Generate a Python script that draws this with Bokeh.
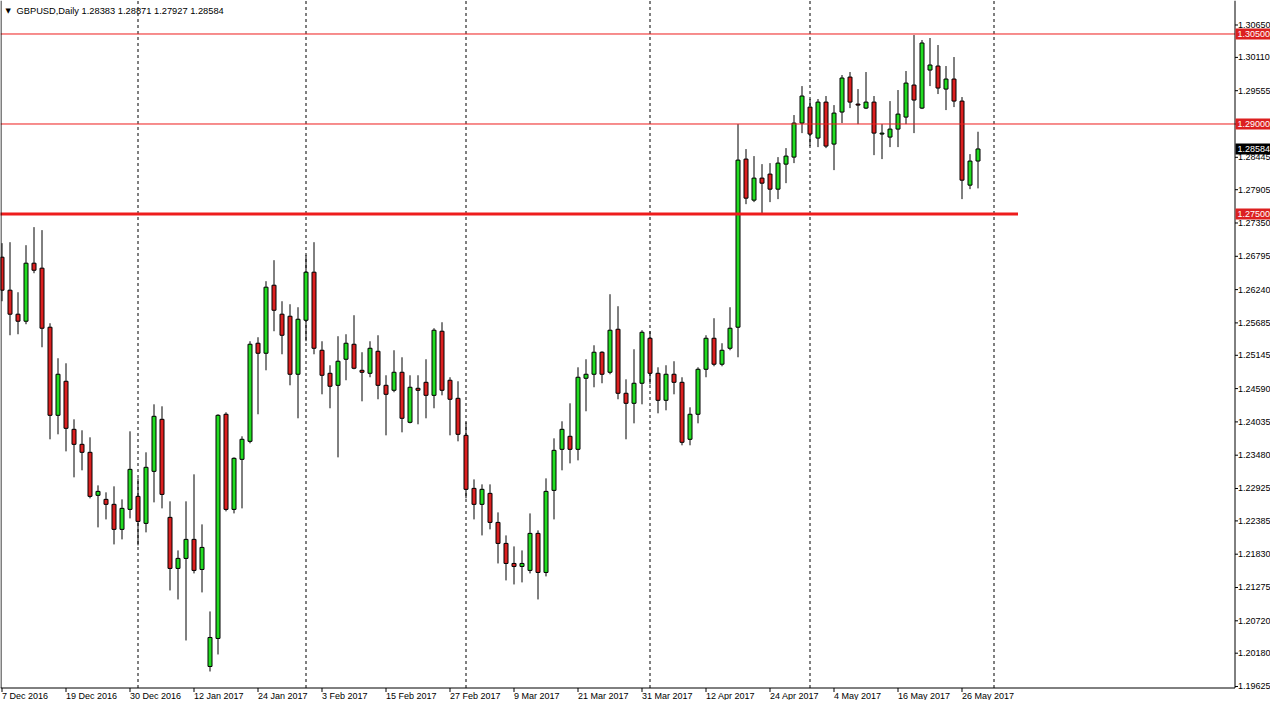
import pandas as pd
from bokeh.plotting import figure
from bokeh.models import Range1d, ColumnDataSource
from bokeh.core.properties import value
from bokeh.embed import file_html
from bokeh.resources import INLINE

# ---------------- data ----------------
symbol = "GBPUSD"
timeframe = "Daily"
first_date = "2016-12-07"
missing_days = ["2016-12-26", "2017-01-02"]

opens = [1.26780, 1.26230, 1.25830, 1.25713, 1.26680, 1.26597, 1.25613, 1.24145, 1.24712, 1.23911,
         1.23661, 1.23528, 1.22811, 1.22744, 1.22661, 1.22244, 1.22577, 1.22794, 1.22344, 1.23211,
         1.24078, 1.22444, 1.21593, 1.21760, 1.22077, 1.21576, 1.19959, 1.20426, 1.24162, 1.22577,
         1.23411, 1.23711, 1.25346, 1.25179, 1.26313, 1.25830, 1.25796, 1.24829, 1.25729, 1.26530,
         1.25229, 1.24845, 1.24645, 1.25079, 1.25329, 1.24895, 1.24845, 1.25212, 1.24645, 1.24562,
         1.24862, 1.24028, 1.24595, 1.24695, 1.24478, 1.25546, 1.24729, 1.24428, 1.23811, 1.22927,
         1.22661, 1.22844, 1.22360, 1.22010, 1.21676, 1.21626, 1.21560, 1.22177, 1.21526, 1.22894,
         1.23578, 1.23795, 1.23578, 1.24762, 1.24829, 1.25196, 1.24862, 1.25579, 1.24512, 1.24345,
         1.24679, 1.25429, 1.24845, 1.24395, 1.24829, 1.24695, 1.23745, 1.24162, 1.24912, 1.25429,
         1.24996, 1.25262, 1.25613, 1.28415, 1.27731, 1.28098, 1.28165, 1.27914, 1.28331, 1.28448,
         1.29015, 1.29282, 1.28765, 1.29365, 1.28665, 1.29199, 1.29782, 1.29332, 1.29265, 1.29365,
         1.28832, 1.28782, 1.28915, 1.29115, 1.29649, 1.29265, 1.29899, 1.29966, 1.29582, 1.29749,
         1.29382, 1.27981, 1.28383]
highs = [1.27014, 1.27030, 1.26196, 1.26980, 1.27281, 1.27231, 1.25679, 1.25096, 1.25012, 1.24078,
         1.23895, 1.23778, 1.22977, 1.22861, 1.22961, 1.22744, 1.23878, 1.23094, 1.23528, 1.24328,
         1.24295, 1.22711, 1.21893, 1.22711, 1.23161, 1.22327, 1.20876, 1.24162, 1.24195, 1.23444,
         1.23795, 1.25379, 1.25446, 1.26380, 1.26730, 1.26046, 1.25996, 1.25946, 1.26813, 1.27030,
         1.25379, 1.24979, 1.25463, 1.25496, 1.25813, 1.25196, 1.25379, 1.25479, 1.24812, 1.25229,
         1.25112, 1.24812, 1.24812, 1.25079, 1.25596, 1.25696, 1.24779, 1.24712, 1.24028, 1.23077,
         1.22994, 1.22994, 1.22527, 1.22143, 1.21960, 1.21893, 1.22510, 1.22227, 1.23094, 1.23761,
         1.24045, 1.24345, 1.24945, 1.25079, 1.25312, 1.25212, 1.26163, 1.25963, 1.24745, 1.25246,
         1.25563, 1.25546, 1.24945, 1.24979, 1.25046, 1.24779, 1.24278, 1.24945, 1.25479, 1.25763,
         1.25346, 1.25946, 1.28998, 1.28582, 1.28465, 1.28331, 1.28348, 1.28448, 1.28598, 1.29149,
         1.29632, 1.29416, 1.29416, 1.29466, 1.29315, 1.29816, 1.29866, 1.29582, 1.29866, 1.29466,
         1.28998, 1.29382, 1.29566, 1.29883, 1.30483, 1.30400, 1.30433, 1.30316, 1.29966, 1.30116,
         1.29449, 1.28498, 1.28871]
lows = [1.26046, 1.25479, 1.25496, 1.25663, 1.26513, 1.25279, 1.23745, 1.23828, 1.23544, 1.23111,
        1.23228, 1.22761, 1.22277, 1.22410, 1.21993, 1.22077, 1.22427, 1.21977, 1.22194, 1.22694,
        1.22594, 1.21226, 1.21076, 1.20392, 1.21510, 1.21193, 1.19875, 1.20159, 1.22544, 1.22510,
        1.22594, 1.23678, 1.24162, 1.24895, 1.25546, 1.25162, 1.24645, 1.24095, 1.25379, 1.25162,
        1.24495, 1.24262, 1.23444, 1.24729, 1.24912, 1.24378, 1.24779, 1.24412, 1.23811, 1.24529,
        1.23861, 1.24011, 1.23995, 1.24095, 1.24262, 1.24478, 1.23811, 1.23711, 1.22761, 1.22410,
        1.22143, 1.22244, 1.21676, 1.21393, 1.21326, 1.21360, 1.21510, 1.21076, 1.21460, 1.22410,
        1.23228, 1.23344, 1.23394, 1.24212, 1.24612, 1.24679, 1.24829, 1.24412, 1.23745, 1.24011,
        1.24328, 1.24662, 1.24178, 1.24228, 1.24495, 1.23645, 1.23645, 1.24011, 1.24779, 1.24962,
        1.24962, 1.25229, 1.25112, 1.27664, 1.27698, 1.27514, 1.27698, 1.27748, 1.28014, 1.28348,
        1.28848, 1.28632, 1.28615, 1.28598, 1.28231, 1.29015, 1.29265, 1.28998, 1.29249, 1.28481,
        1.28415, 1.28615, 1.28615, 1.28998, 1.28848, 1.29249, 1.29632, 1.29499, 1.29232, 1.29282,
        1.27748, 1.27914, 1.27927]
closes = [1.26230, 1.25830, 1.25713, 1.26680, 1.26563, 1.25596, 1.24145, 1.24829, 1.23928, 1.23661,
          1.23528, 1.22794, 1.22877, 1.22661, 1.22244, 1.22594, 1.23244, 1.22377, 1.23278, 1.24128,
          1.22827, 1.21593, 1.21760, 1.22077, 1.21560, 1.21943, 1.20442, 1.24145, 1.22577, 1.23428,
          1.23745, 1.25329, 1.25179, 1.26280, 1.25896, 1.25479, 1.24829, 1.25746, 1.26530, 1.25262,
          1.24812, 1.24629, 1.25046, 1.25346, 1.24929, 1.24862, 1.25262, 1.24645, 1.24495, 1.24862,
          1.24095, 1.24612, 1.24562, 1.24478, 1.25563, 1.24562, 1.24412, 1.23828, 1.22911, 1.22661,
          1.22911, 1.22360, 1.22010, 1.21676, 1.21626, 1.21676, 1.22177, 1.21526, 1.22877, 1.23561,
          1.23911, 1.23578, 1.24779, 1.24829, 1.25196, 1.24829, 1.25563, 1.24512, 1.24345, 1.24679,
          1.25529, 1.24845, 1.24395, 1.24829, 1.24695, 1.23695, 1.24162, 1.24912, 1.25429, 1.24996,
          1.25229, 1.25596, 1.28398, 1.27764, 1.28098, 1.28014, 1.27914, 1.28348, 1.28465, 1.29015,
          1.29466, 1.28832, 1.29365, 1.28632, 1.29182, 1.29766, 1.29365, 1.29315, 1.29365, 1.28848,
          1.28848, 1.28915, 1.29165, 1.29682, 1.29399, 1.30350, 1.29983, 1.29599, 1.29749, 1.29382,
          1.28064, 1.28382, 1.28584]

resistance_levels = [1.30500, 1.29000]
support_level = 1.27500
support_line_bars = [-1, 127]

price_ticks = [1.19625, 1.20180, 1.20720, 1.21275, 1.21830, 1.22385, 1.22925, 1.23480,
               1.24035, 1.24590, 1.25145, 1.25685, 1.26240, 1.26795, 1.27350, 1.27905,
               1.28445, 1.29000, 1.29555, 1.30110, 1.30650]
date_label_step = 8

# ---------------- derived ----------------
n = len(opens)
days = [d for d in pd.bdate_range(first_date, periods=220)
        if d.strftime("%Y-%m-%d") not in missing_days]
bar_dates = days[:n]
tick_bars = list(range(0, n, date_label_step))
tick_texts = [f"{bar_dates[i].day} {bar_dates[i].strftime('%b %Y')}" for i in tick_bars]
month_starts = [i for i in range(1, n) if days[i].month != days[i - 1].month]
month_starts.append(next(i for i in range(n, len(days)) if days[i].month != days[i - 1].month))

# ---------------- layout / style ----------------
W, H = 1270, 700
PX_PER_BAR = 8.0
PX_PER_PRICE = 6000.0
X_START = -1.5 / PX_PER_BAR
X_END = X_START + W / PX_PER_BAR
Y_END = 1.3105833
Y_START = Y_END - H / PX_PER_PRICE


def bx(px):
    return X_START + px / PX_PER_BAR


def py(px):
    return Y_END - px / PX_PER_PRICE


AXIS_X_PX = 1234.5
AXIS_Y_PX = 687.5
CH_R = bx(AXIS_X_PX)
CH_B = py(AXIS_Y_PX)

GREEN = "#22dc22"
RED = "#dc2020"
LINE_RED = "#ee1c1c"
FONT = "Liberation Sans"
FS = "9px"

src = ColumnDataSource(dict(
    x=list(range(n)), high=highs, low=lows,
    top=[max(o, c) for o, c in zip(opens, closes)],
    bottom=[min(o, c) for o, c in zip(opens, closes)],
    color=[GREEN if c >= o else RED for o, c in zip(opens, closes)],
))

p = figure(width=W, height=H, output_backend="svg", toolbar_location=None,
           x_range=Range1d(X_START, X_END), y_range=Range1d(Y_START, Y_END),
           x_axis_type=None, y_axis_type=None, min_border=0)
p.outline_line_color = None
p.background_fill_color = "white"
p.border_fill_color = "white"
p.grid.visible = False

# month separators (period separators)
p.segment(x0=month_starts, x1=month_starts, y0=[CH_B] * len(month_starts),
          y1=[Y_END] * len(month_starts), line_color="black", line_width=1, line_dash="3 3")

# candles
p.segment(x0="x", x1="x", y0="low", y1="high", source=src, line_color="black", line_width=1)
p.vbar(x="x", width=0.5, top="top", bottom="bottom", source=src,
       fill_color="color", line_color="black", line_width=1)

# horizontal levels
p.segment(x0=[X_START] * len(resistance_levels), x1=[CH_R] * len(resistance_levels),
          y0=resistance_levels, y1=resistance_levels, line_color=LINE_RED, line_width=1)
p.line(x=support_line_bars, y=[support_level] * 2, line_color=LINE_RED, line_width=3)

# frame: left border, bottom axis line, right axis line
p.segment(x0=[bx(0.5), X_START, CH_R], x1=[bx(0.5), CH_R, CH_R],
          y0=[CH_B, CH_B, CH_B], y1=[Y_END, CH_B, Y_END], line_color="black", line_width=1)

# price axis ticks and labels (right)
p.segment(x0=[CH_R] * len(price_ticks), x1=[bx(AXIS_X_PX + 3)] * len(price_ticks),
          y0=price_ticks, y1=price_ticks, line_color="black", line_width=1)
p.text(x=[bx(AXIS_X_PX + 3)] * len(price_ticks), y=price_ticks,
       text=[f"{t:.5f}" for t in price_ticks],
       text_font=value(FONT), text_font_size=value(FS), text_color="black",
       text_align="left", text_baseline="middle")

# time axis ticks and labels (bottom)
p.segment(x0=tick_bars, x1=tick_bars, y0=[CH_B] * len(tick_bars),
          y1=[py(AXIS_Y_PX + 4)] * len(tick_bars), line_color="black", line_width=1)
p.text(x=tick_bars, y=[py(695)] * len(tick_bars), text=tick_texts,
       text_font=value(FONT), text_font_size=value(FS), text_color="black",
       text_align="left", text_baseline="middle")

# price tags on the axis
tag_levels = resistance_levels + [support_level, closes[-1]]
tag_colors = [RED, RED, RED, "black"]
half_h = 5.5 / PX_PER_PRICE
p.quad(left=[bx(AXIS_X_PX + 0.5)] * 4, right=[X_END] * 4,
       top=[v + half_h for v in tag_levels], bottom=[v - half_h for v in tag_levels],
       fill_color=tag_colors, line_color=None)
p.text(x=[bx(AXIS_X_PX + 2.5)] * 4, y=tag_levels, text=[f"{v:.5f}" for v in tag_levels],
       text_font=value(FONT), text_font_size=value(FS), text_color="white",
       text_align="left", text_baseline="middle")

# header
header = f"{symbol},{timeframe}  {opens[-1]:.5f} {highs[-1]:.5f} {lows[-1]:.5f} {closes[-1]:.5f}"
p.text(x=[bx(5)], y=[py(10)], text=["\u25bc"], text_font=value("DejaVu Sans"),
       text_font_size=value("7px"), text_color="black", text_align="left", text_baseline="middle")
p.text(x=[bx(16)], y=[py(10)], text=[header], text_font=value(FONT),
       text_font_size=value("9.3px"), text_color="black", text_align="left", text_baseline="middle")

open("out.html", "w").write(file_html(p, INLINE))
